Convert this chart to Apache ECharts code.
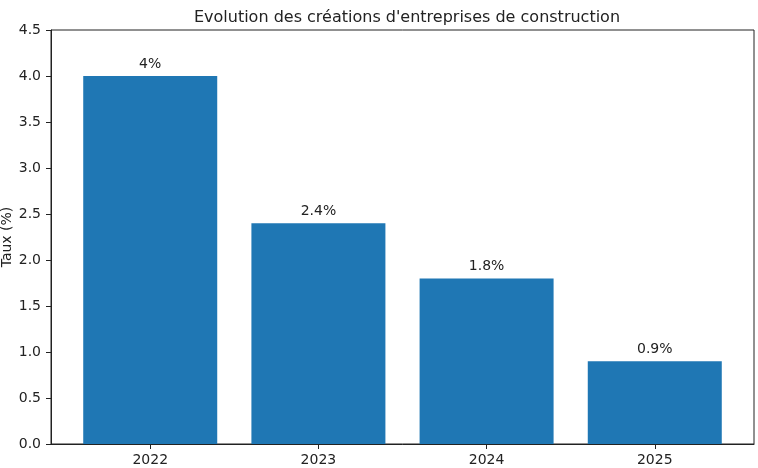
<!DOCTYPE html>
<html>
<head>
<meta charset="utf-8">
<script src="https://cdn.jsdelivr.net/npm/echarts@6/dist/echarts.min.js"></script>
<style>
  html, body { margin: 0; padding: 0; background: #fff; }
  #chart { width: 758px; height: 468px; }
</style>
</head>
<body>
<div id="chart"></div>
<script>
// données
var years = ['2022', '2023', '2024', '2025'];
var taux = [4, 2.4, 1.8, 0.9];
var yTicks = [0, 0.5, 1, 1.5, 2, 2.5, 3, 3.5, 4, 4.5];

var font = 'DejaVu Sans';
var chart = echarts.init(document.getElementById('chart'));

// barres posées sur un axe numérique pour garder les marges de matplotlib
var barData = taux.map(function (v, i) { return [i, v]; });

var option = {
  animation: false,
  title: {
    text: "Evolution des créations d'entreprises de construction",
    left: 402,
    textAlign: 'center',
    top: 5,
    textStyle: { fontFamily: font, fontSize: 16, fontWeight: 'normal', color: '#222' }
  },
  grid: {
    left: 51,
    right: 4,
    top: 30,
    bottom: 24,
    outerBoundsMode: 'none',
    show: true,
    borderColor: '#222',
    borderWidth: 1
  },
  xAxis: {
    type: 'value',
    min: -0.59,
    max: 3.59,
    splitLine: { show: false },
    axisLine: { show: true, onZero: false, lineStyle: { color: '#222' } },
    axisTick: { show: true, length: 5, customValues: [0, 1, 2, 3], lineStyle: { color: '#222' } },
    axisLabel: {
      customValues: [0, 1, 2, 3],
      formatter: function (v) { return years[Math.round(v)]; },
      fontFamily: font, fontSize: 14, color: '#222', margin: 9
    }
  },
  yAxis: {
    type: 'value',
    min: 0,
    max: 4.5,
    interval: 0.5,
    name: 'Taux (%)',
    nameLocation: 'middle',
    nameGap: 37,
    nameMoveOverlap: false,
    nameTextStyle: { fontFamily: font, fontSize: 14, color: '#222' },
    splitLine: { show: false },
    axisLine: { show: true, onZero: false, lineStyle: { color: '#222' } },
    axisTick: { show: true, length: 5, lineStyle: { color: '#222' } },
    axisLabel: {
      customValues: yTicks,
      formatter: function (v) { return v.toFixed(1); },
      fontFamily: font, fontSize: 14, color: '#222', margin: 10
    }
  },
  series: [{
    type: 'bar',
    data: barData,
    barWidth: 134,
    itemStyle: { color: '#1f77b4' },
    label: {
      show: true,
      position: 'top',
      distance: 5,
      formatter: function (p) { return p.value[1] + '%'; },
      fontFamily: font, fontSize: 14, color: '#222'
    }
  }]
};

chart.setOption(option);
</script>
</body>
</html>
